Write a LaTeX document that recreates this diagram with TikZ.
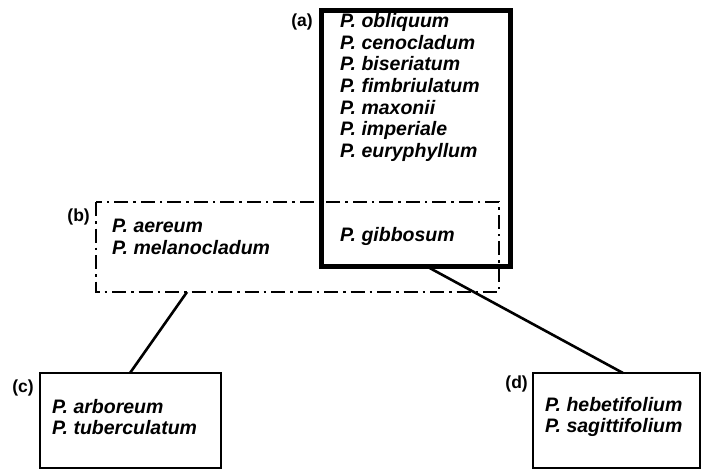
\documentclass[tikz,border=0pt]{standalone}
\usepackage{fontspec}
\setmainfont{Liberation Sans}
\begin{document}
\begin{tikzpicture}[x=1pt,y=-1pt,
  sp/.style={anchor=west,inner sep=0pt,font=\fontsize{19.5}{21.7}\selectfont\bfseries\itshape,align=left},
  lab/.style={anchor=east,inner sep=0pt,font=\fontsize{17.5}{20}\selectfont\bfseries},
  boxa/.style={draw,line width=5pt},
  boxb/.style={draw,line width=1.8pt,dash pattern=on 14pt off 5pt on 2.5pt off 5pt},
  boxn/.style={draw,line width=1.6pt},
  conn/.style={line width=2.6pt}]
\useasboundingbox (0,0) rectangle (704,471);
% box (b) dash-dot
\draw[boxb] (96,202) rectangle (499,292);
% box (a)
\draw[boxa] (321,10.5) rectangle (510,266);
\coordinate (aBot) at (426,266);
\coordinate (bBot) at (187,292);
% boxes c,d
\draw[boxn] (40,373) rectangle (221,468);
\draw[boxn] (533,373) rectangle (700,468);
\coordinate (cTop) at (130,373);
\coordinate (dTop) at (623,373);
% labels
\node[lab] (la) at (313,22) {(a)};
\node[lab] (lb) at (90,217) {(b)};
\node[lab] (lc) at (34,388) {(c)};
\node[lab] (ld) at (528,384) {(d)};
% text
\node[sp,anchor=north west] (ta) at (340,13) {P. obliquum\\P. cenocladum\\P. biseriatum\\P. fimbriulatum\\P. maxonii\\P. imperiale\\P. euryphyllum};
\node[sp] (tg) at (340,236) {P. gibbosum};
\node[sp] (tb) at (112,237) {P. aereum\\P. melanocladum};
\node[sp] (tc) at (52,417) {P. arboreum\\P. tuberculatum};
\node[sp] (td) at (545,417) {P. hebetifolium\\P. sagittifolium};
% connectors
\draw[conn] (bBot) -- (cTop);
\draw[conn] (aBot) -- (dTop);
\end{tikzpicture}
\end{document}
